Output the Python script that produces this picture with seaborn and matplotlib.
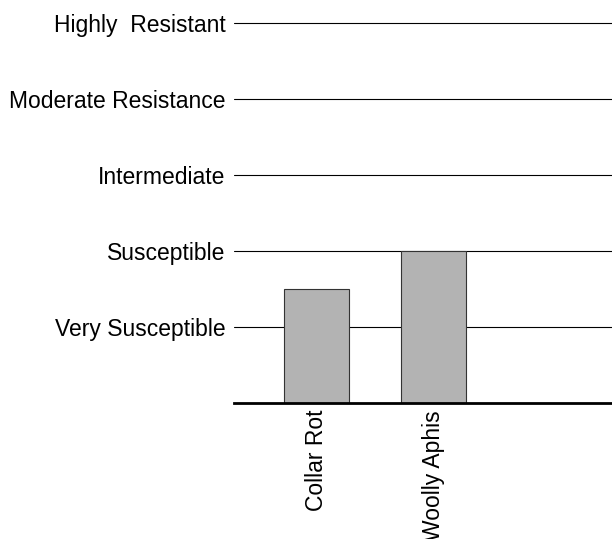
"""Disease resistance rating bar chart."""
import matplotlib

matplotlib.use("Agg")
import matplotlib.pyplot as plt  # noqa: E402
import pandas as pd  # noqa: E402
import seaborn as sns  # noqa: E402

diseases = ["Collar Rot", "Woolly Aphis"]
ratings = [1.5, 2.0]
level_values = [1, 2, 3, 4, 5]
level_labels = ["Very Susceptible", "Susceptible", "Intermediate",
                "Moderate Resistance", "Highly  Resistant"]

sns.set_style("white")
plt.rcParams["font.family"] = ["Liberation Sans", "DejaVu Sans"]
plt.rcParams["text.color"] = "black"
plt.rcParams["xtick.color"] = "black"
plt.rcParams["ytick.color"] = "black"

df = pd.DataFrame({"disease": diseases, "rating": ratings})

fig = plt.figure(figsize=(6.12, 5.39), dpi=100)
ax = fig.add_axes([0.382, 0.2523, 0.618, 0.719])

for v in level_values:
    ax.axhline(v, color="black", lw=0.8, zorder=1)

sns.barplot(data=df, x="disease", y="rating", ax=ax, color="#b3b3b3",
            edgecolor="#333333", linewidth=0.8, width=0.556,
            saturation=1, zorder=2)

ax.set_xlim(-0.705, 2.526)
ax.set_ylim(0, 5.1)
ax.set_yticks(level_values)
ax.set_yticklabels(level_labels, fontsize=16.5)
ax.tick_params(axis="y", length=0, pad=6, labelcolor="black")
ax.tick_params(axis="x", length=0, pad=5, labelsize=16.5, labelcolor="black")
for t in ax.get_xticklabels():
    t.set_rotation(90)
    t.set_va("top")
    t.set_ha("center")
ax.set_xlabel("")
ax.set_ylabel("")
ax.spines[["top", "right", "left"]].set_visible(False)
ax.spines["bottom"].set_linewidth(2.0)
ax.spines["bottom"].set_color("black")

fig.savefig("out.png", dpi=100)
plt.close(fig)
